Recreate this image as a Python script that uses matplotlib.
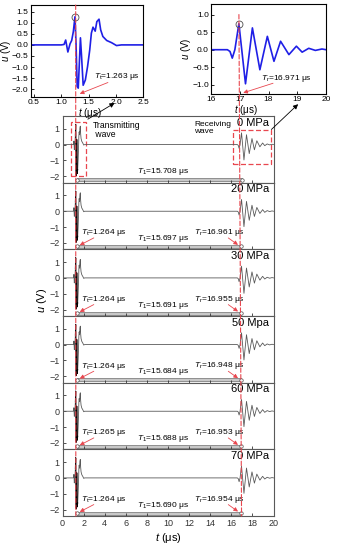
import matplotlib.pyplot as plt
from matplotlib.patches import Rectangle, ConnectionPatch

plt.rcParams['font.family'] = ['Liberation Sans', 'DejaVu Sans']
plt.rcParams['mathtext.fontset'] = 'custom'
plt.rcParams['mathtext.rm'] = 'Liberation Sans'
plt.rcParams['mathtext.it'] = 'Liberation Sans:italic'
plt.rcParams['font.size'] = 6.5

# transmitting wave
t_tx = [0.0, 1.00, 1.05, 1.08, 1.12, 1.16, 1.19, 1.22, 1.25, 1.27, 1.29, 1.31,
        1.35, 1.37, 1.40, 1.44, 1.48, 1.52, 1.55, 1.58, 1.62, 1.65, 1.69, 1.72,
        1.76, 1.83, 1.92, 2.01, 2.10, 2.50]
u_tx = [0.0, 0.0, 0.02, 0.22, -0.32, 0.05, 0.2, 0.6, 1.27, 0.0, -1.88, -1.95,
        0.32, -0.5, -1.82, -1.58, -0.98, -0.23, 0.53, 0.8, 0.62, 1.05, 1.16, 0.68,
        0.38, 0.2, 0.1, -0.03, 0.0, 0.0]

# receiving wave
t_rx = [16.0, 16.57, 16.66, 16.74, 16.83, 16.97, 17.2, 17.44, 17.7, 17.96, 18.19,
        18.42, 18.71, 18.97, 19.17, 19.4, 19.63, 19.86, 20.0]
u_rx = [0.0, 0.0, -0.05, -0.24, 0.0, 0.74, -0.97, 0.62, -0.57, 0.38, -0.33,
        0.24, -0.14, 0.1, -0.07, 0.04, -0.02, 0.02, 0.0]

pressures = ['0 MPa', '20 MPa', '30 MPa', '50 Mpa', '60 MPa', '70 MPa']
tt_vals = [None, 1.264, 1.264, 1.264, 1.265, 1.264]
t1_vals = [15.708, 15.697, 15.691, 15.684, 15.688, 15.690]
tr_vals = [None, 16.961, 16.955, 16.948, 16.953, 16.954]
tt_inset = 1.263
tr_inset = 16.971

red = '#e8474f'
blue = '#1f1fe6'

fig = plt.figure(figsize=(3.38, 5.5), dpi=100)
W, H = 338.0, 550.0

# main stacked panels
left, right = 62.5, 273.5
top, bottom = 116.0, 516.0
ph = (bottom - top) / 6
axes = []
for i in range(6):
    b = 1 - (top + (i + 1) * ph) / H
    ax = fig.add_axes([left / W, b, (right - left) / W, ph / H])
    axes.append(ax)

t_main = t_tx + t_rx
u_main = u_tx + u_rx
for i, ax in enumerate(axes):
    ax.plot(t_main, u_main, color='0.35', lw=0.6)
    ax.plot(t_tx[7:16], u_tx[7:16], color='k', lw=0.7)
    ax.set_xlim(0, 20)
    ax.set_ylim(-2.4, 1.8)
    ax.set_yticks([-2, -1, 0, 1])
    ax.set_xticks(range(0, 21, 2))
    ax.tick_params(direction='in', length=2.5, width=0.6, labelsize=6.5, pad=2,
                   colors='0.2')
    for s in ax.spines.values():
        s.set_color('0.35')
        s.set_linewidth(0.8)
    if i < 5:
        ax.tick_params(labelbottom=False)
    ax.text(19.6, 1.7, pressures[i], ha='right', va='top', fontsize=8)

    # gray T1 bar
    t_a = tt_vals[i] if tt_vals[i] else tt_inset
    t_b = tr_vals[i] if tr_vals[i] else tr_inset
    ax.fill_between([t_a + 0.15, t_b], -2.31, -2.12, facecolor='#c8c8c8',
                    edgecolor='#6e6e6e', lw=0.5)
    ax.plot([t_a + 0.15, t_b], [-2.215, -2.215], 'o', ms=2.5, mfc='white',
            mec='0.3', mew=0.5)
    ax.text(7.1, -1.72, r'$T_1$=%.3f μs' % t1_vals[i], ha='left', va='center',
            fontsize=6)

    if tt_vals[i] is not None:
        ax.text(1.8, -1.35, r'$T_\mathrm{t}$=%.3f μs' % tt_vals[i], ha='left',
                va='center', fontsize=6)
        ax.annotate('', xy=(1.4, -2.22), xytext=(3.2, -1.6),
                    arrowprops=dict(arrowstyle='-|>', color=red, lw=0.6,
                                    mutation_scale=6))
        ax.text(12.5, -1.33, r'$T_\mathrm{r}$=%.3f μs' % tr_vals[i], ha='left',
                va='center', fontsize=6)
        ax.annotate('', xy=(16.85, -2.22), xytext=(15.5, -1.58),
                    arrowprops=dict(arrowstyle='-|>', color=red, lw=0.6,
                                    mutation_scale=6))

ax0 = axes[0]
ax0.add_patch(Rectangle((0.85, -1.97), 1.42, 3.41, fill=False, ec=red, lw=0.9,
                        ls=(0, (4, 2))))
ax0.add_patch(Rectangle((16.18, -1.23), 3.6, 2.15, fill=False, ec=red, lw=0.9,
                        ls=(0, (4, 2))))
ax0.text(2.9, 1.5, 'Transmitting\n wave', ha='left', va='top', fontsize=6.2,
         linespacing=1.1)
ax0.text(12.5, 1.5, 'Receiving\nwave', ha='left', va='top', fontsize=6,
         linespacing=1.1)

axes[-1].set_xlabel(r'$t$ (μs)', fontsize=8, labelpad=2)
fig.text(42 / W, 1 - 300 / H, r'$u$ (V)', rotation=90, ha='center', va='center',
         fontsize=8)

# insets
ax_l = fig.add_axes([30.7 / W, 1 - 97 / H, 112.6 / W, 92 / H])
ax_l.plot(t_tx, u_tx, color=blue, lw=1.2)
ax_l.set_xlim(0.44, 2.49)
ax_l.set_ylim(-2.35, 1.8)
ax_l.set_xticks([0.5, 1.0, 1.5, 2.0, 2.5])
ax_l.set_yticks([-2.0, -1.5, -1.0, -0.5, 0.0, 0.5, 1.0, 1.5])
ax_l.set_xlabel(r'$t$ (μs)', fontsize=7)
ax_l.set_ylabel(r'$u$ (V)', fontsize=7)
ax_l.xaxis.set_label_coords(0.53, -0.1)
ax_l.yaxis.set_label_coords(-0.16, 0.5)
ax_l.plot([1.25], [1.27], 'o', ms=5, mfc='none', mec='0.3', mew=0.6)
ax_l.text(1.59, -1.44, r'$T_\mathrm{t}$=%.3f μs' % tt_inset, ha='left',
          va='center', fontsize=6)
ax_l.annotate('', xy=(1.29, -2.25), xytext=(1.9, -1.65),
              arrowprops=dict(arrowstyle='-|>', color=red, lw=0.6,
                              mutation_scale=6))

ax_r = fig.add_axes([211 / W, 1 - 94 / H, 115 / W, 90 / H])
ax_r.plot(t_rx, u_rx, color=blue, lw=1.2)
ax_r.set_xlim(16, 20)
ax_r.set_ylim(-1.26, 1.3)
ax_r.set_xticks([16, 17, 18, 19, 20])
ax_r.set_yticks([-1.0, -0.5, 0.0, 0.5, 1.0])
ax_r.set_xlabel(r'$t$ (μs)', fontsize=7)
ax_r.set_ylabel(r'$u$ (V)', fontsize=7)
ax_r.xaxis.set_label_coords(0.3, -0.1)
ax_r.yaxis.set_label_coords(-0.16, 0.5)
ax_r.plot([16.97], [0.74], 'o', ms=5, mfc='none', mec='0.3', mew=0.6)
ax_r.text(17.73, -0.81, r'$T_\mathrm{r}$=%.3f μs' % tr_inset, ha='left',
          va='center', fontsize=6)
ax_r.annotate('', xy=(17.03, -1.25), xytext=(18.25, -0.93),
              arrowprops=dict(arrowstyle='-|>', color=red, lw=0.6,
                              mutation_scale=6))

for ax in (ax_l, ax_r):
    ax.tick_params(direction='in', length=2.5, width=0.6, labelsize=6, pad=1.5)
    for s in ax.spines.values():
        s.set_linewidth(0.8)

# red dashed guide lines from insets down to the bottom panel
for ax_in, t0, u0 in ((ax_l, tt_inset, 1.8), (ax_r, tr_inset, 1.0)):
    con = ConnectionPatch(xyA=(t0, u0), coordsA=ax_in.transData,
                          xyB=(t0, -2.4), coordsB=axes[-1].transData,
                          color=red, lw=0.8, ls=(0, (4, 2)), zorder=5)
    fig.add_artist(con)

# black arrows from the boxes to the insets
for xyA, xyB, ax_in in (((2.4, 1.6), (1.975, -2.62), ax_l),
                        ((19.8, 0.95), (19.03, -1.55), ax_r)):
    con = ConnectionPatch(xyA=xyA, coordsA=ax0.transData, xyB=xyB,
                          coordsB=ax_in.transData, arrowstyle='-|>',
                          color='k', lw=0.6, mutation_scale=7, zorder=6)
    fig.add_artist(con)

fig.savefig('out.png', dpi=100)
